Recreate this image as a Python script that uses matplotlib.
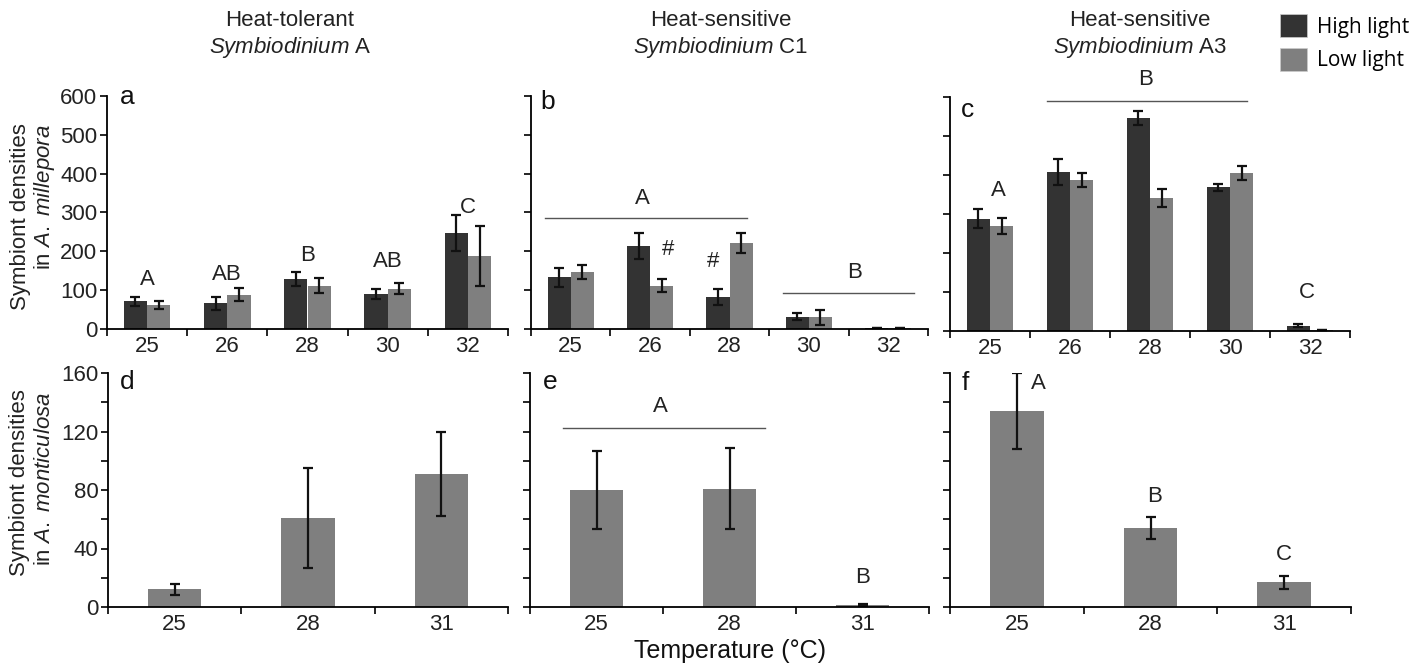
import matplotlib
matplotlib.use("Agg")
import matplotlib.pyplot as plt
import numpy as np
from matplotlib.patches import Patch
from matplotlib.ticker import MultipleLocator, FixedLocator, NullFormatter

plt.rcParams['font.family'] = ['Liberation Sans', 'DejaVu Sans']
plt.rcParams['mathtext.fontset'] = 'custom'
plt.rcParams['mathtext.rm'] = 'Liberation Sans'
plt.rcParams['mathtext.it'] = 'Liberation Sans:italic'

# ---------------- data ----------------
temps_top = ['25', '26', '28', '30', '32']
temps_bot = ['25', '28', '31']

# A. millepora, high light / low light (mean, SE)
a_high = [71, 66, 129, 91, 248]
a_high_err = [12, 17, 17, 13, 46]
a_low = [62, 88, 112, 104, 187]
a_low_err = [10, 17, 20, 15, 77]

b_high = [133, 213, 82, 31, 2]
b_high_err = [25, 34, 20, 9, 0]
b_low = [147, 112, 221, 30, 2]
b_low_err = [18, 17, 25, 20, 0]

c_high = [288, 408, 546, 369, 14]
c_high_err = [25, 34, 19, 9, 3]
c_low = [270, 386, 340, 405, 2]
c_low_err = [20, 18, 23, 19, 0]

# A. monticulosa (single treatment)
d_vals = [12, 61, 91]
d_err = [4, 34, 28.5]
e_vals = [80, 81, 1.6]
e_err = [26.5, 27.5, 0.7]
f_vals = [134, 54, 17]
f_err = [26, 7.5, 4.5]

DARK = '#333333'
LIGHT = '#7f7f7f'
FS = 15
FL = 16

W, H = 1425, 664
fig = plt.figure(figsize=(W / 100, H / 100), dpi=100)


def ax_at(x0, x1, ytop, ybot):
    return fig.add_axes([x0 / W, 1 - ybot / H, (x1 - x0) / W, (ybot - ytop) / H])


def style(ax, n, ymax, major, minor, show_labels):
    for s in ['top', 'right']:
        ax.spines[s].set_visible(False)
    for s in ['left', 'bottom']:
        ax.spines[s].set_linewidth(1.3)
        ax.spines[s].set_color('black')
    ax.set_xlim(-0.5, n - 0.5)
    ax.set_ylim(0, ymax)
    ax.set_xticks(np.arange(n))
    ax.xaxis.set_minor_locator(FixedLocator(np.arange(n + 1) - 0.5))
    ax.tick_params(axis='x', which='major', length=0, labelsize=FS + 1, pad=5, colors='#222222')
    ax.tick_params(axis='x', which='minor', length=5, width=1.2, direction='out')
    ax.yaxis.set_major_locator(MultipleLocator(major))
    ax.yaxis.set_minor_locator(MultipleLocator(minor))
    ax.tick_params(axis='y', which='both', length=5, width=1.2, direction='out',
                   labelsize=FS + 1, pad=2, colors='black', labelcolor='#222222')
    if not show_labels:
        ax.yaxis.set_major_formatter(NullFormatter())
    ax.set_facecolor('none')


def paired(ax, high, high_err, low, low_err):
    x = np.arange(len(high))
    w = 0.29
    ekw = dict(elinewidth=1.6, capthick=1.6, ecolor='#111111')
    ax.bar(x - w / 2, high, w, yerr=high_err, color=DARK, capsize=3.5, error_kw=ekw)
    ax.bar(x + w / 2, low, w, yerr=low_err, color=LIGHT, capsize=3.5, error_kw=ekw)


def single(ax, vals, err):
    x = np.arange(len(vals))
    ekw = dict(elinewidth=1.6, capthick=1.6, ecolor='#111111')
    ax.bar(x, vals, 0.4, yerr=err, color=LIGHT, capsize=3.5, error_kw=ekw)


def txt(ax, x, y, s, size=FL):
    ax.text(x, y, s, ha='center', va='center', fontsize=size, color='#222222', clip_on=False)


def hline(ax, x0, x1, y):
    ax.plot([x0, x1], [y, y], color='#555555', lw=1.0, clip_on=False)


# ---------- top row ----------
ax_a = ax_at(107, 508, 96, 329)
paired(ax_a, a_high, a_high_err, a_low, a_low_err)
style(ax_a, 5, 600, 100, 100, True)
ax_a.set_xticklabels(temps_top)
for i, (lab, yy) in enumerate(zip(['A', 'AB', 'B', 'AB', 'C'], [128, 141, 188, 173, 312])):
    txt(ax_a, i, yy, lab)

ax_b = ax_at(531, 928, 96, 329)
paired(ax_b, b_high, b_high_err, b_low, b_low_err)
style(ax_b, 5, 600, 100, 100, False)
ax_b.set_xticklabels(temps_top)
hline(ax_b, -0.32, 2.22, 287)
txt(ax_b, 0.9, 337, 'A')
hline(ax_b, 2.67, 4.32, 93)
txt(ax_b, 3.57, 146, 'B')
txt(ax_b, 1.22, 204, '#')
txt(ax_b, 1.79, 174, '#')

ax_c = ax_at(950, 1350, 97, 331)
paired(ax_c, c_high, c_high_err, c_low, c_low_err)
style(ax_c, 5, 600, 100, 100, False)
ax_c.set_xticklabels(temps_top)
txt(ax_c, 0.1, 360, 'A')
hline(ax_c, 0.71, 3.21, 591)
txt(ax_c, 1.94, 645, 'B')
txt(ax_c, 3.96, 100, 'C')

# ---------- bottom row ----------
ax_d = ax_at(108, 508, 373, 607)
single(ax_d, d_vals, d_err)
style(ax_d, 3, 160, 40, 20, True)
ax_d.set_xticklabels(temps_bot)

ax_e = ax_at(530, 929, 373, 607)
single(ax_e, e_vals, e_err)
style(ax_e, 3, 160, 40, 20, False)
ax_e.set_xticklabels(temps_bot)
hline(ax_e, -0.25, 1.27, 122.6)
txt(ax_e, 0.48, 136.8, 'A')
txt(ax_e, 2.0, 20.5, 'B')

ax_f = ax_at(950, 1351, 373, 607)
single(ax_f, f_vals, f_err)
style(ax_f, 3, 160, 40, 20, False)
ax_f.set_xticklabels(temps_bot)
txt(ax_f, 0.16, 153, 'A')
txt(ax_f, 1.03, 75.7, 'B')
txt(ax_f, 2.0, 35.8, 'C')

# panel letters
for x, y, s in [(127, 97, 'a'), (548, 102, 'b'), (967, 110, 'c'),
                (127, 382, 'd'), (550, 382, 'e'), (965, 383, 'f')]:
    fig.text(x / W, 1 - y / H, s, fontsize=19, ha='center', va='center', color='#111111')

# titles
for xc, l1, l2 in [(290, 'Heat-tolerant', r'$\mathit{Symbiodinium}$ A'),
                   (721, 'Heat-sensitive', r'$\mathit{Symbiodinium}$ C1'),
                   (1140, 'Heat-sensitive', r'$\mathit{Symbiodinium}$ A3')]:
    fig.text(xc / W, 1 - 21 / H, l1, fontsize=FL, ha='center', va='center', color='#222222')
    fig.text(xc / W, 1 - 48 / H, l2, fontsize=FL, ha='center', va='center', color='#222222')

# y labels
fig.text(21 / W, 1 - 217 / H, 'Symbiont densities', rotation=90, fontsize=FL,
         ha='center', va='center', color='#222222')
fig.text(45 / W, 1 - 197 / H, r'in $\mathit{A.\ millepora}$', rotation=90, fontsize=FL,
         ha='center', va='center', color='#222222')
fig.text(20 / W, 1 - 483 / H, 'Symbiont densities', rotation=90, fontsize=FL,
         ha='center', va='center', color='#222222')
fig.text(45 / W, 1 - 479 / H, r'in $\mathit{A.\ monticulosa}$', rotation=90, fontsize=FL,
         ha='center', va='center', color='#222222')

fig.text(730 / W, 1 - 651 / H, 'Temperature (°C)', fontsize=18, ha='center', va='center',
         color='#111111')

# legend
handles = [Patch(facecolor=DARK, edgecolor='#cccccc', lw=0.5, label='High light'),
           Patch(facecolor=LIGHT, edgecolor='#cccccc', lw=0.5, label='Low light')]
fig.legend(handles=handles, loc='upper left', bbox_to_anchor=(1276 / W, 1 - 10 / H),
           frameon=False, prop={'family': 'Open Sans', 'size': 15},
           handlelength=1.3, handleheight=1.3, handletextpad=0.45, labelspacing=0.5,
           borderaxespad=0, borderpad=0.2)

fig.savefig('out.png', dpi=100)
